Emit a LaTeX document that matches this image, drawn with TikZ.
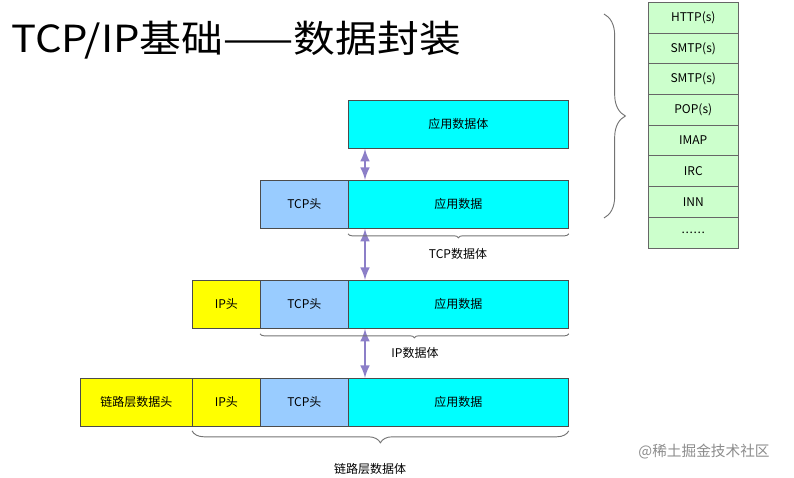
\documentclass[tikz,border=0pt]{standalone}
\usepackage{fontspec}
\setmainfont{Noto Sans CJK SC}
\usetikzlibrary{decorations.pathreplacing,calc}
\definecolor{appcol}{HTML}{00FFFF}
\definecolor{tcpcol}{HTML}{99CCFF}
\definecolor{ipcol}{HTML}{FFFF00}
\definecolor{protcol}{HTML}{CCFFCC}
\definecolor{arrcol}{HTML}{8C7FC8}
\tikzset{
  box/.style={draw=black!70, line width=0.6pt, minimum height=36pt, inner sep=0pt, font=\fontsize{9}{9}\selectfont, anchor=north west},
  prot/.style={draw=black!60, fill=protcol, minimum width=67.5pt, minimum height=23pt, inner sep=0pt, font=\fontsize{9}{9}\selectfont, anchor=north west},
  dbl/.style={arrcol, line width=2.2pt, <->, >=latex},
  brc/.style={draw=black!55, line width=0.7pt, decorate},
  lbl/.style={font=\fontsize{9}{9}\selectfont}
}
\begin{document}
\begin{tikzpicture}[x=0.75pt,y=-0.75pt]
	\useasboundingbox (0,0) rectangle (794,478);

	\node[anchor=west, font=\fontsize{28}{28}\selectfont, xscale=1.12] (title) at (6,40) {TCP/IP基础——数据封装};

	% application layer
	\node[box, fill=appcol, minimum width=165pt] (app1) at (348,100) {应用数据体};

	% transport layer
	\node[box, fill=tcpcol, minimum width=66pt] (tcp2) at (260,180) {TCP头};
	\node[box, fill=appcol, minimum width=165pt] (app2) at (348,180) {应用数据};

	% network layer
	\node[box, fill=ipcol, minimum width=51pt] (ip3) at (192,280) {IP头};
	\node[box, fill=tcpcol, minimum width=66pt] (tcp3) at (260,280) {TCP头};
	\node[box, fill=appcol, minimum width=165pt] (app3) at (348,280) {应用数据};

	% link layer
	\node[box, fill=ipcol, minimum width=84pt] (link4) at (80,378) {链路层数据头};
	\node[box, fill=ipcol, minimum width=51pt] (ip4) at (192,378) {IP头};
	\node[box, fill=tcpcol, minimum width=66pt] (tcp4) at (260,378) {TCP头};
	\node[box, fill=appcol, minimum width=165pt] (app4) at (348,378) {应用数据};

	% arrows
	\coordinate (a1) at ($(app1.south west)+(17,0)$);
	\coordinate (a2) at ($(app2.north west)+(17,0)$);
	\coordinate (b2) at ($(app2.south west)+(17,0)$);
	\coordinate (a3) at ($(app3.north west)+(17,0)$);
	\coordinate (b3) at ($(app3.south west)+(17,0)$);
	\coordinate (a4) at ($(app4.north west)+(17,0)$);
	\draw[dbl] (a1) -- (a2);
	\draw[dbl] (b2) -- (a3);
	\draw[dbl] (b3) -- (a4);

	% braces
	\draw[brc, decoration={brace, mirror, amplitude=3pt}] ($(app2.south west)+(0,5)$) -- ($(app2.south east)+(0,5)$);
	\node[lbl] (tcpbody) at (458,254) {TCP数据体};
	\draw[brc, decoration={brace, mirror, amplitude=3pt}] ($(tcp3.south west)+(0,5)$) -- ($(app3.south east)+(0,5)$);
	\node[lbl] (ipbody) at (415,353) {IP数据体};
	\draw[brc, decoration={brace, mirror, amplitude=9pt}] ($(ip4.south west)+(0,4)$) -- ($(app4.south east)+(0,4)$);
	\node[lbl] (linkbody) at (370,469) {链路层数据体};

	% protocol stack
	\foreach \t [count=\i] in {HTTP(s),SMTP(s),SMTP(s),POP(s),IMAP,IRC,INN,{.\kern0.5pt.\kern0.5pt.\kern0.5pt.\kern0.5pt.\kern0.5pt.}}
		\node[prot] (p\i) at (648,{2+(\i-1)*30.7}) {\t};
	\draw[brc, decoration={brace, amplitude=16pt}] (604,14) -- (604,218);

	\node[text=black!45, font=\fontsize{11}{11}\selectfont] (mark) at (704,452) {@稀土掘金技术社区};

\end{tikzpicture}
\end{document}
